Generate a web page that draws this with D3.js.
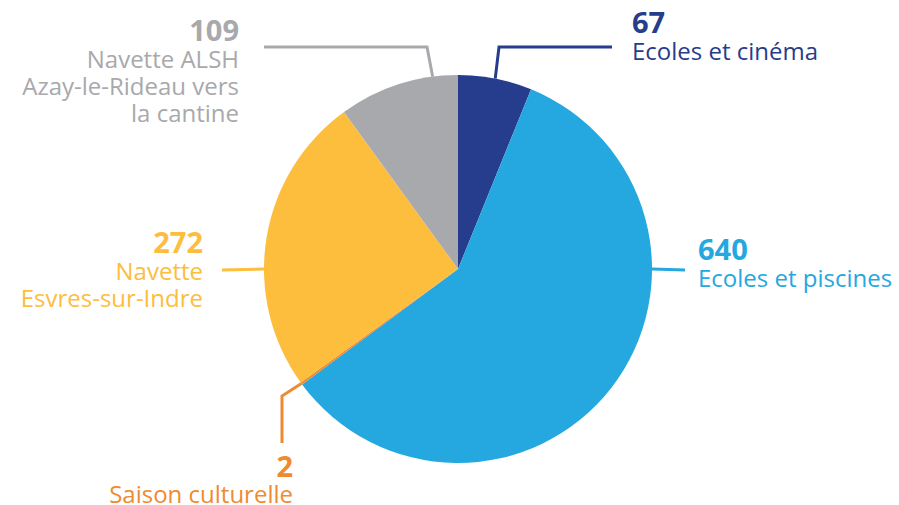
<!DOCTYPE html>
<html>
<head>
<meta charset="utf-8">
<script src="https://cdn.jsdelivr.net/npm/d3@7"></script>
<style>
  body { margin: 0; background: #fff; }
  svg { display: block; font-family: "Open Sans", sans-serif; }
</style>
</head>
<body>
<svg width="899" height="505"></svg>
<script>
// data, clockwise from 12 o'clock
const categories = ["Ecoles et cinéma", "Ecoles et piscines", "Saison culturelle", "Navette Esvres-sur-Indre", "Navette ALSH Azay-le-Rideau vers la cantine"];
const values = [67, 640, 2, 272, 109];
const colors = ["#253d8c", "#25a8e0", "#f08a30", "#fdbd3d", "#a8a9ac"];
// label lines as shown (text broken by hand like the source)
const labelLines = [
  ["Ecoles et cinéma"],
  ["Ecoles et piscines"],
  ["Saison culturelle"],
  ["Navette", "Esvres-sur-Indre"],
  ["Navette ALSH", "Azay-le-Rideau vers", "la cantine"]
];

const width = 899;
const height = 505;
const cx = 458;
const cy = 269;
const radius = 194;
const svg = d3.select("svg");

// where each leader leaves the pie (deg, clockwise from top), its bends and the text block
const leaders = [
  { angle: null, bends: [[499, 47], [612, 47]], tx: 632, ty: 33, anchor: "start" },
  { angle: 90, bends: [[685, 270]], tx: 698, ty: 260, anchor: "start" },
  { angle: null, bends: [[282, 396], [282, 443]], tx: 293, ty: 477, anchor: "end" },
  { angle: 270, bends: [[222, 270]], tx: 203, ty: 253, anchor: "end" },
  { angle: 352.5, bends: [[427, 47], [264, 47]], tx: 239, ty: 41, anchor: "end" }
];

const pie = d3.pie().sort(null).value(d => d);
const arcs = pie(values);
const arc = d3.arc().innerRadius(0).outerRadius(radius);

const g = svg.append("g").attr("transform", "translate(" + [cx, cy] + ")");

g.selectAll("path")
  .data(arcs)
  .enter()
  .append("path")
  .attr("d", arc)
  .attr("fill", (d, i) => colors[i]);

const line = d3.line();

arcs.forEach((d, i) => {
  const L = leaders[i];
  const a = L.angle === null ? (d.startAngle + d.endAngle) / 2 : L.angle * Math.PI / 180;
  const start = [cx + radius * Math.sin(a), cy - radius * Math.cos(a)];
  svg.append("path")
    .attr("d", line([start].concat(L.bends)))
    .attr("fill", "none")
    .attr("stroke", colors[i])
    .attr("stroke-width", 3);

  const t = svg.append("text")
    .attr("text-anchor", L.anchor)
    .attr("fill", colors[i]);
  t.append("tspan")
    .attr("x", L.tx)
    .attr("y", L.ty)
    .attr("font-weight", 700)
    .attr("font-size", 29)
    .text(values[i]);
  labelLines[i].forEach((s, j) => {
    t.append("tspan")
      .attr("x", L.tx)
      .attr("y", Math.min(L.ty + 27 * (j + 1), 503))
      .attr("font-size", 24)
      .text(s);
  });
});
</script>
</body>
</html>
